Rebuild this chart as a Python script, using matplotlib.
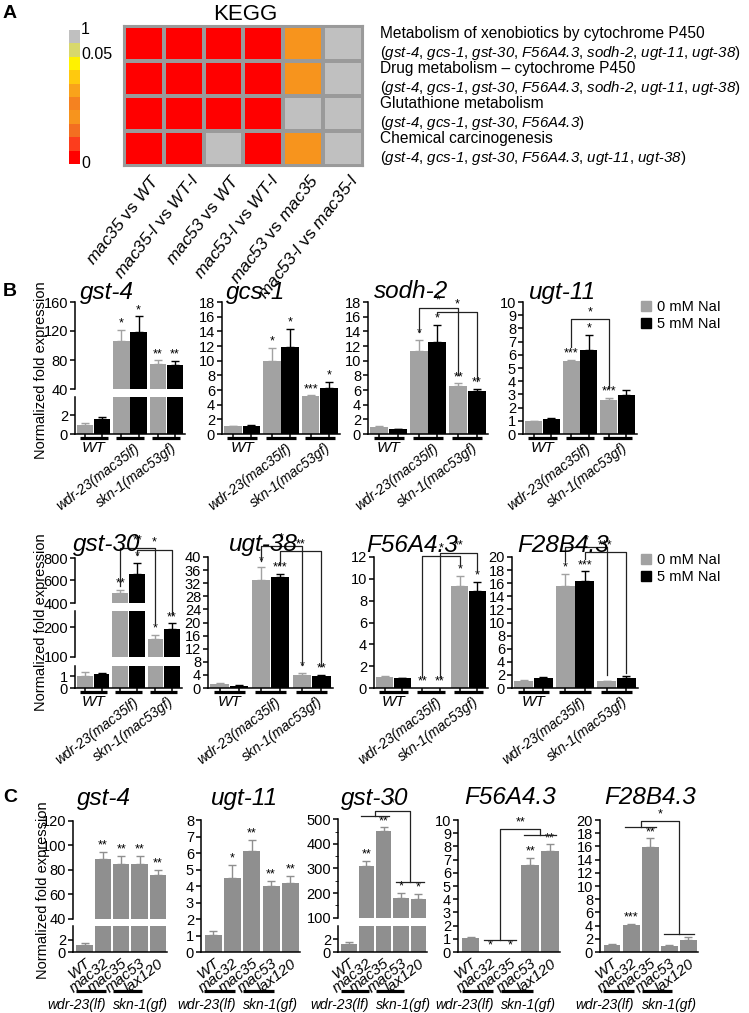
import numpy as np
import matplotlib
matplotlib.use("Agg")
import matplotlib.pyplot as plt
import matplotlib.transforms as mtransforms
from matplotlib.colors import ListedColormap, BoundaryNorm
from matplotlib.lines import Line2D
from matplotlib.patches import Patch

plt.rcParams['font.family'] = ['Liberation Sans', 'DejaVu Sans']
plt.rcParams['mathtext.fontset'] = 'custom'
plt.rcParams['mathtext.rm'] = 'Liberation Sans'
plt.rcParams['mathtext.it'] = 'Liberation Sans:italic'
plt.rcParams['mathtext.sf'] = 'Liberation Sans:italic'   # used for italic gene names (keeps digits italic)
plt.rcParams['axes.linewidth'] = 1.1
plt.rcParams['xtick.major.width'] = 1.1
plt.rcParams['ytick.major.width'] = 1.1

# ---------------- data ----------------
# A: KEGG enrichment (p-values)
kegg_pathways = ["Metabolism of xenobiotics by cytochrome P450",
                 "Drug metabolism \u2013 cytochrome P450",
                 "Glutathione metabolism",
                 "Chemical carcinogenesis"]
kegg_genes = [["gst-4", "gcs-1", "gst-30", "F56A4.3", "sodh-2", "ugt-11", "ugt-38"],
              ["gst-4", "gcs-1", "gst-30", "F56A4.3", "sodh-2", "ugt-11", "ugt-38"],
              ["gst-4", "gcs-1", "gst-30", "F56A4.3"],
              ["gst-4", "gcs-1", "gst-30", "F56A4.3", "ugt-11", "ugt-38"]]
kegg_comparisons = [("mac35", "WT"), ("mac35-l", "WT-l"), ("mac53", "WT"),
                    ("mac53-l", "WT-l"), ("mac53", "mac35"), ("mac53-l", "mac35-l")]
kegg_pvalues = [[0.0, 0.0, 0.0, 0.0, 0.02, 1.0],
                [0.0, 0.0, 0.0, 0.0, 0.02, 1.0],
                [0.0, 0.0, 0.0, 0.0, 1.0, 1.0],
                [0.0, 0.0, 1.0, 0.0, 0.02, 1.0]]
cbar_bounds = [0, 0.00625, 0.0125, 0.01875, 0.025, 0.03125, 0.0375, 0.04375, 0.05, 0.5, 1.0001]
cbar_colors = ['#ff0000', '#fc3d1d', '#f36f21', '#f7941d', '#f58220',
               '#f9a31b', '#ffc90e', '#fff200', '#d8d86c', '#c0c0c0']

# B: qPCR, 0 mM vs 5 mM NaI
b_groups = ["WT", "wdr-23(mac35lf)", "skn-1(mac53gf)"]
b_conditions = ["0 mM NaI", "5 mM NaI"]
gst4_b = dict(mean0=[1.0, 106, 75], err0=[0.2, 16, 4.5], mean5=[1.6, 118, 73], err5=[0.2, 22, 6],
              stars0=["", "*", "**"], stars5=["", "*", "**"])
gcs1_b = dict(mean0=[1.05, 10.0, 5.2], err0=[0.05, 1.7, 0.05], mean5=[1.15, 11.9, 6.25], err5=[0.08, 2.4, 0.8],
              stars0=["", "*", "***"], stars5=["", "*", "*"])
sodh2_b = dict(mean0=[1.0, 11.3, 6.6], err0=[0.1, 1.5, 0.3], mean5=[0.65, 12.6, 5.8], err5=[0.05, 2.3, 0.4],
               stars0=["", "*", "**"], stars5=["", "*", "**"])
ugt11_b = dict(mean0=[1.0, 5.5, 2.6], err0=[0.02, 0.12, 0.12], mean5=[1.15, 6.4, 2.95], err5=[0.03, 1.1, 0.4],
               stars0=["", "***", "***"], stars5=["", "*", ""])
gst30_b = dict(mean0=[1.05, 485, 160], err0=[0.28, 30, 15], mean5=[1.2, 655, 195], err5=[0.1, 100, 18],
               stars0=["", "**", "*"], stars5=["", "*", "**"])
ugt38_b = dict(mean0=[1.2, 33.0, 4.1], err0=[0.3, 3.8, 0.4], mean5=[0.7, 33.8, 3.8], err5=[0.1, 1.1, 0.1],
               stars0=["", "*", "*"], stars5=["", "***", "**"])
f56_b = dict(mean0=[1.05, 0.03, 9.3], err0=[0.03, 0, 1.0], mean5=[0.93, 0.03, 8.85], err5=[0.03, 0, 0.85],
             stars0=["", "**", "*"], stars5=["", "**", "*"])
f28_b = dict(mean0=[1.05, 15.6, 1.05], err0=[0.2, 1.8, 0.05], mean5=[1.5, 16.3, 1.5], err5=[0.25, 1.5, 0.3],
             stars0=["", "*", ""], stars5=["", "***", ""])
# brackets: (group1, cond1, group2, cond2, y_top, y_left_end, y_right_end, label)
sodh2_brackets = [(1, 0, 2, 0, 17.2, 13.9, 8.1, "*"), (1, 1, 2, 1, 16.7, 16.2, 7.2, "*")]
ugt11_brackets = [(1, 0, 2, 0, 8.7, 6.6, 3.5, "*")]
gst30_brackets = [(1, 0, 2, 0, 893, 550, 214, "**"), (1, 1, 2, 1, 875, 830, 241, "*")]
ugt38_brackets = [(1, 0, 2, 0, 43.4, 38.7, 7.1, "*"), (1, 1, 2, 1, 41.8, 37.7, 6.7, "**")]
f56_brackets = [(1, 0, 2, 0, 12.1, 1.0, 11.2, "*"), (1, 1, 2, 1, 12.4, 1.0, 10.6, "**")]
f28_brackets = [(1, 0, 2, 0, 21.5, 19.4, 2.05, "*"), (1, 1, 2, 1, 20.7, 19.7, 2.3, "***")]

# C: qPCR in several alleles
c_strains = ["WT", "mac32", "mac35", "mac53", "lax120"]
c_alleles = [("wdr-23(lf)", [1, 2]), ("skn-1(gf)", [3, 4])]
gst4_c = dict(mean=[1.1, 89, 85, 85, 75.5], err=[0.3, 6, 6.5, 6.5, 4.5], stars=["", "**", "**", "**", "**"])
ugt11_c = dict(mean=[1.05, 4.5, 6.15, 4.0, 4.2], err=[0.25, 0.78, 0.65, 0.33, 0.42], stars=["", "*", "**", "**", "**"])
gst30_c = dict(mean=[1.2, 310, 452, 179, 175], err=[0.35, 20, 15, 22, 23], stars=["", "**", "**", "*", "*"])
f56_c = dict(mean=[1.05, 0.03, 0.03, 6.6, 7.65], err=[0.1, 0, 0, 0.55, 0.5], stars=["", "*", "*", "**", "**"])
f28_c = dict(mean=[1.1, 4.15, 15.9, 0.95, 1.85], err=[0.15, 0.06, 1.3, 0.05, 0.35], stars=["", "***", "**", "", ""])
# group brackets: (left bars, right bars, y_left, y_top, y_right, label)
gst30_c_brackets = [([1, 2], [3, 4], 513, 534, 246, "*")]
f56_c_brackets = [([1, 2], [3, 4], 0.94, 9.3, 8.9, "**")]
f28_c_brackets = [([1, 2], [3, 4], 18.9, 19.8, 2.8, "*")]

# ---------------- figure ----------------
W, H = 749, 1013
fig = plt.figure(figsize=(W / 100, H / 100), dpi=100)
B_GRAY = '#a2a2a2'
C_GRAY = '#8f8f8f'
LINE = '#222222'


def add_ax(l, t, r, b):
    return fig.add_axes([l / W, 1 - b / H, (r - l) / W, (b - t) / H])


def ftext(x, y, s, **kw):
    return fig.text(x / W, 1 - y / H, s, **kw)


def it(s):
    # italic pieces (sf font is set to italic), plain hyphen between them
    return "-".join(r"$\mathsf{" + p + "}$" for p in s.split("-"))


def fig_xy(ax, x, y):
    return fig.transFigure.inverted().transform(ax.transData.transform((x, y)))


def pick(axes, y):
    for ax in axes[::-1]:
        if y <= ax.get_ylim()[1]:
            return ax
    return axes[0]


def poly(points):
    xs = [p[0] for p in points]
    ys = [p[1] for p in points]
    fig.add_artist(Line2D(xs, ys, transform=fig.transFigure, color=LINE, lw=0.9))


def bar_chart(l, r, segs, xs, vals, errs, colors, width, xlim, ticklen):
    axes = []
    for k, (t, b, lo, hi, ticks) in enumerate(segs):
        ax = add_ax(l, t, r, b)
        ax.bar(xs, vals, width=width, color=colors, zorder=2)
        for x, v, e, c in zip(xs, vals, errs, colors):
            if e > 0:
                ax.errorbar(x, v, yerr=[[0], [e]], fmt='none', ecolor=c, elinewidth=1,
                            capsize=3, capthick=1, zorder=1)
        ax.set_xlim(xlim)
        ax.set_ylim(lo, hi)
        ax.set_yticks(ticks)
        ax.tick_params(axis='y', labelsize=10.5, pad=1.5, length=3.5)
        ax.spines['top'].set_visible(False)
        ax.spines['right'].set_visible(False)
        if k < len(segs) - 1:
            ax.spines['bottom'].set_visible(False)
            ax.tick_params(axis='x', bottom=False, labelbottom=False)
        else:
            ax.set_xticks(xs)
            ax.tick_params(axis='x', length=ticklen, labelbottom=False)
        axes.append(ax)
    return axes


def add_stars(axes, xs, vals, errs, stars):
    for x, v, e, s in zip(xs, vals, errs, stars):
        if s:
            top = v + e
            pick(axes, top).annotate(s, (x, top), xytext=(0, 0.3), textcoords='offset points',
                                     ha='center', va='bottom', fontsize=9, annotation_clip=False)


# ---------------- A ----------------
ftext(10, 13, "A", fontsize=14, fontweight='bold', va='center', ha='center')
ftext(245, 14, "KEGG", fontsize=16, va='center', ha='center')

cmap = ListedColormap(cbar_colors)
norm = BoundaryNorm(cbar_bounds, cmap.N)

hx = add_ax(124, 26, 363, 166)
hx.pcolormesh(np.array(kegg_pvalues), cmap=cmap, norm=norm, edgecolors='#9a9a9a', linewidth=1.5)
hx.set_xlim(0, len(kegg_comparisons))
hx.set_ylim(len(kegg_pathways), 0)
hx.set_xticks([])
hx.set_yticks([])
for s in hx.spines.values():
    s.set_color('#9a9a9a')
    s.set_linewidth(1.5)
for j, (a, b) in enumerate(kegg_comparisons):
    hx.text(j + 0.66, len(kegg_pathways) + 0.15, it(a) + " vs " + it(b), rotation=52,
            ha='right', va='top', rotation_mode='anchor', fontsize=12.5)
row_h = 140 / len(kegg_pathways)
for i, (name, genes) in enumerate(zip(kegg_pathways, kegg_genes)):
    yc = 26 + row_h * (i + 0.5)
    ftext(380, yc - 10, name, fontsize=11.2, va='center', ha='left')
    ftext(380, yc + 9.5, "(" + ", ".join(it(g) for g in genes) + ")", fontsize=10.8, va='center', ha='left')

cax = add_ax(69, 30, 80, 164)
cax.imshow(np.arange(len(cbar_colors))[::-1].reshape(-1, 1), cmap=cmap, aspect='auto', interpolation='nearest')
cax.set_xticks([])
cax.set_yticks([])
for s in cax.spines.values():
    s.set_visible(False)
for frac, lab in [(1.0, "1"), (0.82, "0.05"), (0.0, "0")]:
    cax.text(1.1, frac, lab, transform=cax.transAxes, va='center', ha='left', fontsize=11.5)

# ---------------- B ----------------
ftext(10, 292, "B", fontsize=14, fontweight='bold', va='center', ha='center')
OFF = (-0.235, 0.235)
b_xs = [g + o for g in range(len(b_groups)) for o in OFF]
b_cols = [B_GRAY, 'k'] * len(b_groups)

b_panels = [
    ("gst-4", gst4_b, [], 75, 185, [(302, 389, 40, 160, [40, 80, 120, 160]), (397, 434, 0, 3.9, [0, 2])], 107, 292),
    ("gcs-1", gcs1_b, [], 222, 340, [(302, 434, 0, 18, range(0, 19, 2))], 256, 292),
    ("sodh-2", sodh2_b, sodh2_brackets, 368, 488, [(302, 434, 0, 18, range(0, 19, 2))], 411, 292),
    ("ugt-11", ugt11_b, ugt11_brackets, 523, 637, [(302, 434, 0, 10, range(0, 11))], 563, 292),
    ("gst-30", gst30_b, gst30_brackets, 75, 182,
     [(558, 603, 400, 800, [400, 600, 800]), (611, 657, 100, 255, [100, 200]), (666, 688, 0, 1.87, [0, 1])], 107, 545),
    ("ugt-38", ugt38_b, ugt38_brackets, 208, 333, [(557, 688, 0, 40, range(0, 41, 4))], 263, 545),
    ("F56A4.3", f56_b, f56_brackets, 374, 488, [(557, 688, 0, 12, range(0, 13, 2))], 412, 545),
    ("F28B4.3", f28_b, f28_brackets, 512, 638, [(557, 688, 0, 20, range(0, 21, 2))], 563, 545),
]

for title, d, brackets, l, r, segs, tx, ty in b_panels:
    vals = [v for pair in zip(d['mean0'], d['mean5']) for v in pair]
    errs = [v for pair in zip(d['err0'], d['err5']) for v in pair]
    stars = [v for pair in zip(d['stars0'], d['stars5']) for v in pair]
    axes = bar_chart(l, r, segs, b_xs, vals, errs, b_cols, 0.45, (-0.52, 2.52), 3)
    add_stars(axes, b_xs, vals, errs, stars)
    ftext(tx, ty, title, fontsize=17.5, fontstyle='italic', ha='center', va='center')
    ax = axes[-1]
    tline = mtransforms.offset_copy(ax.get_xaxis_transform(), fig=fig, x=0, y=-4, units='dots')
    tlab = mtransforms.offset_copy(ax.get_xaxis_transform(), fig=fig, x=0, y=-7, units='dots')
    for g in range(len(b_groups)):
        ax.plot([g - 0.38, g + 0.38], [0, 0], transform=tline, color='k', lw=2.3,
                clip_on=False, solid_capstyle='butt')
    ax.text(0, 0, b_groups[0], transform=tlab, ha='center', va='top', fontstyle='italic', fontsize=11)
    for g in (1, 2):
        ax.text(g + 0.12, 0, b_groups[g], transform=tlab, rotation=37, ha='right', va='top',
                rotation_mode='anchor', fontstyle='italic', fontsize=10)
    for g1, c1, g2, c2, yt, y1, y2, lab in brackets:
        xa, xb = g1 + OFF[c1], g2 + OFF[c2]
        p1 = fig_xy(pick(axes, y1), xa, y1)
        pt1 = fig_xy(pick(axes, yt), xa, yt)
        pt2 = fig_xy(pick(axes, yt), xb, yt)
        p2 = fig_xy(pick(axes, y2), xb, y2)
        poly([p1, pt1, pt2, p2])
        fig.text((pt1[0] + pt2[0]) / 2, pt1[1] + 1 / H, lab, ha='center', va='bottom', fontsize=9)

for ly in (370, 622):
    ftext(41, ly, "Normalized fold expression", rotation=90, ha='center', va='center', fontsize=10.5)
for ly in (300, 553):
    fig.legend(handles=[Patch(color=B_GRAY), Patch(color='k')], labels=b_conditions,
               loc='upper left', bbox_to_anchor=(641 / W, 1 - ly / H), frameon=False, fontsize=10.5,
               handlelength=0.7, handleheight=0.7, handletextpad=0.4, labelspacing=0.2,
               borderpad=0, borderaxespad=0)

# ---------------- C ----------------
ftext(10, 798, "C", fontsize=14, fontweight='bold', va='center', ha='center')
c_xs = list(range(len(c_strains)))
c_panels = [
    ("gst-4", gst4_c, [], 73, 167, [(821, 918.7, 40, 120, range(40, 121, 20)), (926, 952, 0, 4.2, [0, 2])], 104, None),
    ("ugt-11", ugt11_c, [], 201, 300, [(820, 952, 0, 8, range(0, 9))], 245, None),
    ("gst-30", gst30_c, gst30_c_brackets, 338, 427,
     [(819.3, 917.7, 100, 500, range(100, 501, 100)), (926, 952, 0, 4.1, [0, 2])], 375, 50),
    ("F56A4.3", f56_c, f56_c_brackets, 458, 560, [(820, 952, 0, 10, range(0, 11))], 510, None),
    ("F28B4.3", f28_c, f28_c_brackets, 600, 698, [(820, 952, 0, 20, range(0, 21, 2))], 650, None),
]
for title, d, brackets, l, r, segs, tx, minor in c_panels:
    axes = bar_chart(l, r, segs, c_xs, d['mean'], d['err'], [C_GRAY] * len(c_xs), 0.88, (-0.63, 4.5), 0)
    add_stars(axes, c_xs, d['mean'], d['err'], d['stars'])
    if minor:
        axes[0].set_yticks(np.arange(150, 500, minor * 2), minor=True)
        axes[0].tick_params(axis='y', which='minor', length=2)
    ftext(tx, 798, title, fontsize=17.5, fontstyle='italic', ha='center', va='center')
    ax = axes[-1]
    ax.set_xticklabels(c_strains, rotation=38, ha='right', rotation_mode='anchor',
                       fontstyle='italic', fontsize=11)
    ax.tick_params(axis='x', pad=3, labelbottom=True)
    tline = mtransforms.offset_copy(ax.get_xaxis_transform(), fig=fig, x=0, y=-39, units='dots')
    tlab = mtransforms.offset_copy(ax.get_xaxis_transform(), fig=fig, x=0, y=-53, units='dots')
    for k, (name, bars) in enumerate(c_alleles):
        xc = np.mean(bars) - 1.15
        ax.plot([xc - 0.8, xc + 0.8], [0, 0], transform=tline, color='k', lw=2.3,
                clip_on=False, solid_capstyle='butt')
        if k == 0:
            ax.text(xc + 0.8, 0, name, transform=tlab, ha='right', va='center', fontstyle='italic', fontsize=10)
        else:
            ax.text(xc - 0.8, 0, name, transform=tlab, ha='left', va='center', fontstyle='italic', fontsize=10)
    for lb, rb, yl, yt, yr, lab in brackets:
        xl, xr = np.mean(lb), np.mean(rb)
        hw = 0.8
        poly([fig_xy(pick(axes, yl), xl - hw, yl), fig_xy(pick(axes, yl), xl + hw, yl)])
        poly([fig_xy(pick(axes, yl), xl, yl), fig_xy(pick(axes, yt), xl, yt),
              fig_xy(pick(axes, yt), xr, yt), fig_xy(pick(axes, yr), xr, yr)])
        poly([fig_xy(pick(axes, yr), xr - hw, yr), fig_xy(pick(axes, yr), xr + hw, yr)])
        pt = fig_xy(pick(axes, yt), (xl + xr) / 2, yt)
        fig.text(pt[0], pt[1] + 1 / H, lab, ha='center', va='bottom', fontsize=9)

ftext(43, 890, "Normalized fold expression", rotation=90, ha='center', va='center', fontsize=10.5)

fig.savefig("out.png", dpi=100)
